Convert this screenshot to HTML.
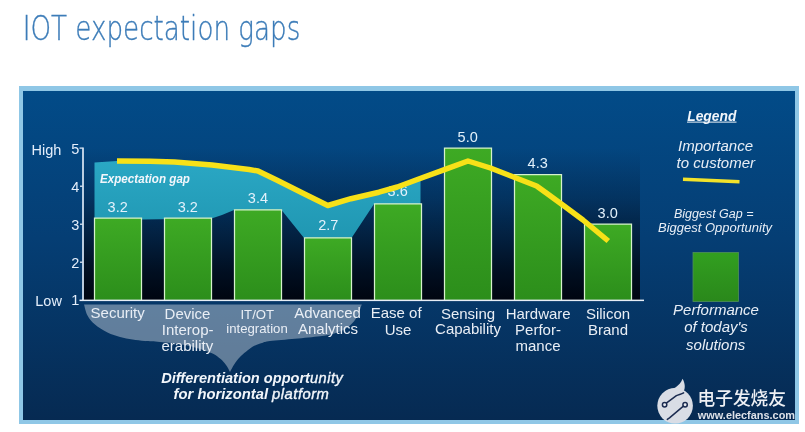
<!DOCTYPE html>
<html lang="en">
<head>
<meta charset="utf-8">
<title>IOT expectation gaps</title>
<style>
html,body{margin:0;padding:0;background:#fff;}
body{width:805px;height:432px;overflow:hidden;position:relative;font-family:"Liberation Sans","Noto Sans CJK SC",sans-serif;}
svg{position:absolute;left:0;top:0;display:block;}
text{font-family:"Liberation Sans","Noto Sans CJK SC",sans-serif;}
.title{font-family:"DejaVu Sans","Liberation Sans",sans-serif;font-weight:200;font-size:33.8px;fill:#3c7cb8;stroke:#3c7cb8;stroke-width:0.35px;}
.ax{font-size:14.5px;fill:#e4eefb;}
.val{font-size:14.5px;fill:#e2f1fb;text-anchor:middle;}
.cat{font-size:15px;fill:#e9eef5;text-anchor:middle;}
.leg{font-size:15px;font-style:italic;fill:#e8eef6;text-anchor:middle;}
.legs{font-size:12.3px;font-style:italic;fill:#e8eef6;}
.bi{font-weight:bold;font-style:italic;fill:#f2f6fb;}
.lt{font-weight:normal;stroke:#f2f6fb;stroke-width:0.35px;letter-spacing:0.45px;}
.cjk{font-family:"Liberation Sans","Noto Sans CJK SC",sans-serif;}
</style>
</head>
<body>
<svg width="805" height="432" viewBox="0 0 805 432">
  <defs>
    <linearGradient id="bg" x1="0" y1="0" x2="0" y2="1">
      <stop offset="0" stop-color="#024b88"/>
      <stop offset="0.45" stop-color="#053e74"/>
      <stop offset="1" stop-color="#062a52"/>
    </linearGradient>
    <linearGradient id="plot" x1="0" y1="0" x2="0" y2="1">
      <stop offset="0" stop-color="#000510" stop-opacity="0"/>
      <stop offset="0.33" stop-color="#000510" stop-opacity="0.24"/>
      <stop offset="0.6" stop-color="#000510" stop-opacity="0.54"/>
      <stop offset="0.8" stop-color="#000510" stop-opacity="0.8"/>
      <stop offset="1" stop-color="#000510" stop-opacity="1"/>
    </linearGradient>
    <linearGradient id="bar" x1="0" y1="0" x2="0" y2="1">
      <stop offset="0" stop-color="#3eaa24"/>
      <stop offset="1" stop-color="#2c8e1b"/>
    </linearGradient>
    <linearGradient id="sq" x1="0" y1="0" x2="0" y2="1">
      <stop offset="0" stop-color="#329f20"/>
      <stop offset="1" stop-color="#2a881b"/>
    </linearGradient>
    <linearGradient id="teal" x1="0" y1="0" x2="0" y2="1">
      <stop offset="0" stop-color="#2aa7c4"/>
      <stop offset="1" stop-color="#2097b2"/>
    </linearGradient>
  </defs>

  <!-- title -->
  <text class="title" x="22.7" y="39.7" textLength="277.6" lengthAdjust="spacingAndGlyphs">IOT expectation gaps</text>

  <!-- panel -->
  <rect x="19" y="86" width="780" height="338" fill="#8fc7e6"/>
  <rect x="23" y="91" width="772" height="329" fill="url(#bg)"/>

  <!-- plot area -->
  <rect x="84" y="148" width="556" height="152" fill="url(#plot)"/>

  <!-- teal expectation gap -->
  <path d="M94.5,162.5 L117,161 L150,161.3 L174.5,162 L212,165 L249,169.5 L258,171 L276.6,180 L304.5,194 L327.8,205.5 L351,198.7 L379,192.2 L397.3,187 L416,180 L420.5,178.3 L420.5,204 L374,204 L351.5,238 L304,238 L281.5,210 L234,210 L222,215 L211.5,218.5 L141,219.5 L94.5,218 Z" fill="url(#teal)"/>

  <!-- bars -->
  <g fill="url(#bar)" stroke="#d6f2cc" stroke-width="1.25">
    <path d="M94.5,300 V218 H141.5 V300"/>
    <path d="M164.5,300 V218 H211.5 V300"/>
    <path d="M234.5,300 V209.8 H281.5 V300"/>
    <path d="M304.5,300 V237.8 H351.5 V300"/>
    <path d="M374.5,300 V203.9 H421.5 V300"/>
    <path d="M444.5,300 V148 H491.5 V300"/>
    <path d="M514.5,300 V174.5 H561.5 V300"/>
    <path d="M584.5,300 V224 H631.5 V300"/>
  </g>

  <!-- axes -->
  <rect x="82.2" y="147.5" width="1.6" height="153.5" fill="#e9f0fa"/>
  <rect x="82.2" y="299.6" width="561.8" height="1.5" fill="#e6edf6"/>
  <g fill="#e9f0fa">
    <rect x="79.5" y="147.5" width="3" height="1.2"/>
    <rect x="80" y="185.6" width="2.5" height="1.2"/>
    <rect x="80" y="223.6" width="2.5" height="1.2"/>
    <rect x="80" y="261.6" width="2.5" height="1.2"/>
    <rect x="79.5" y="299.6" width="3" height="1.5"/>
  </g>

  <!-- axis labels -->
  <g class="ax">
    <text x="31.6" y="154.7">High</text>
    <text x="35.3" y="306">Low</text>
    <text x="71.2" y="153.8">5</text>
    <text x="71.2" y="192.3">4</text>
    <text x="71.2" y="230">3</text>
    <text x="71.2" y="268">2</text>
    <text x="71.2" y="305.3">1</text>
  </g>

  <!-- values -->
  <g class="val">
    <text x="117.7" y="211.6">3.2</text>
    <text x="187.8" y="211.6">3.2</text>
    <text x="257.9" y="202.7">3.4</text>
    <text x="328.3" y="230.4">2.7</text>
    <text x="397.7" y="196.2">3.6</text>
    <text x="467.7" y="142">5.0</text>
    <text x="537.7" y="167.9">4.3</text>
    <text x="607.7" y="217.6">3.0</text>
  </g>

  <text class="bi" x="100" y="183.2" font-size="12.6" textLength="90" lengthAdjust="spacingAndGlyphs">Expectation gap</text>

  <!-- yellow line -->
  <path d="M117,161 L150,161.3 L174.5,162 L212,165 L249,169.5 L258,171 L276.6,180 L304.5,194 L327.8,205.5 L351,198.7 L379,192.2 L397.3,187 L416,180 L443.8,169.8 L468,161 L490.4,168 L514.2,177.3 L536.6,186 L546,192.8 L564.5,206.2 L583,220 L608.3,241" fill="none" stroke="#f7e118" stroke-width="5.5" stroke-linejoin="round"/>

  <!-- brace -->
  <path d="M84.0,304.5 C84.6,306.3 85.7,312.2 87.5,315.5 C89.3,318.8 91.7,321.7 95.0,324.5 C98.3,327.3 103.3,330.4 107.5,332.5 C111.7,334.6 115.8,335.8 120.0,337.0 C124.2,338.2 128.3,338.8 132.5,339.5 C136.7,340.2 140.4,340.6 145.0,341.0 C149.6,341.4 153.3,341.3 160.0,342.0 C166.7,342.7 176.7,343.2 185.0,345.0 C193.3,346.8 204.2,350.2 210.0,352.5 C215.8,354.8 217.3,356.4 220.0,358.5 C222.7,360.6 224.3,362.8 226.0,365.0 C227.7,367.2 229.3,370.8 230.0,372.0 C230.8,370.7 232.8,366.5 234.5,364.0 C236.2,361.5 237.0,359.9 240.0,357.0 C243.0,354.1 248.8,349.1 252.5,346.8 C256.2,344.5 259.1,344.0 262.0,343.0 C264.9,342.0 264.5,341.7 270.0,341.0 C275.5,340.3 286.7,339.5 295.0,338.7 C303.3,337.9 313.8,337.0 320.0,336.2 C326.2,335.4 328.2,335.3 332.5,334.0 C336.8,332.7 342.1,331.1 346.0,328.5 C349.9,325.9 353.4,322.5 356.0,318.5 C358.6,314.5 360.8,306.8 361.8,304.5 Z" fill="#ffffff" fill-opacity="0.37"/>

  <!-- category labels -->
  <g class="cat">
    <text x="117.7" y="318.2">Security</text>
    <text x="187.5" y="318.6">Device</text>
    <text x="187.7" y="334.8">Interop-</text>
    <text x="187.3" y="350.8">erability</text>
    <text x="257.3" y="318.7" font-size="13.2">IT/OT</text>
    <text x="257" y="333" font-size="13.2">integration</text>
    <text x="327.5" y="318.2">Advanced</text>
    <text x="328" y="334.4">Analytics</text>
    <text x="396.2" y="318.3">Ease of</text>
    <text x="398" y="334.5">Use</text>
    <text x="468" y="318.6">Sensing</text>
    <text x="468" y="334">Capability</text>
    <text x="538.2" y="318.5">Hardware</text>
    <text x="538" y="334.8">Perfor-</text>
    <text x="538" y="350.8">mance</text>
    <text x="608" y="318.6">Silicon</text>
    <text x="608" y="334.6">Brand</text>
  </g>

  <g class="bi" font-size="13.8">
    <text x="161.2" y="382.8" textLength="182" lengthAdjust="spacingAndGlyphs">Differentiation opport<tspan class="lt">unity</tspan></text>
    <text x="173.6" y="399.2" textLength="155.8" lengthAdjust="spacingAndGlyphs">for horizontal <tspan class="lt">platform</tspan></text>
  </g>

  <!-- legend -->
  <text class="bi" x="711.8" y="120.8" font-size="13.8" text-anchor="middle">Legend</text>
  <rect x="687" y="121.6" width="49.5" height="1" fill="#eef3f9"/>
  <g class="leg">
    <text x="715.5" y="151">Importance</text>
    <text x="715.8" y="168">to customer</text>
    <text x="716" y="314.8">Performance</text>
    <text x="716" y="332.3">of today's</text>
    <text x="715.7" y="349.8">solutions</text>
  </g>
  <path d="M683,179.3 L739.5,181.8" stroke="#f2e22a" stroke-width="3.6" fill="none"/>
  <g class="legs">
    <text x="674" y="217.8" textLength="79.5" lengthAdjust="spacingAndGlyphs">Biggest Gap =</text>
    <text x="658" y="232.3" textLength="114" lengthAdjust="spacingAndGlyphs">Biggest Opportunity</text>
  </g>
  <rect x="693" y="252.5" width="45.5" height="49" fill="url(#sq)" stroke="#4f8f5a" stroke-width="0.8"/>

  <!-- watermark -->
  <g>
    <circle cx="675.1" cy="405.8" r="17.8" fill="#d9dde5"/>
    <path d="M666,391 C673,389.5 679.5,386.5 682.6,378.8 C685.2,383.5 685.3,388 683.8,391 C684.5,391.8 685.5,392.5 687,393.5 L680,397 Z" fill="#d9dde5"/>
    <g stroke="#1b2b50" stroke-width="1.5" fill="none" stroke-linecap="round" stroke-linejoin="round">
      <path d="M666.3,403.2 L676.4,395.6 C679,394.4 681.5,394.2 683.6,392.8"/>
      <path d="M683.4,406.2 L669.5,417.8 L667.3,419.4"/>
      <circle cx="664.6" cy="404.7" r="2.2" fill="#e6e9ef"/>
      <circle cx="685.1" cy="404.7" r="2.2" fill="#e6e9ef"/>
    </g>
    <text class="cjk" x="697.5" y="404.8" font-size="18" font-weight="500" fill="#eef0f4" textLength="88.5" lengthAdjust="spacingAndGlyphs">电子发烧友</text>
    <text x="697.8" y="418.8" font-size="11.4" font-weight="bold" fill="#dde1e8" textLength="97.2" lengthAdjust="spacingAndGlyphs">www.elecfans.com</text>
  </g>
</svg>
</body>
</html>
